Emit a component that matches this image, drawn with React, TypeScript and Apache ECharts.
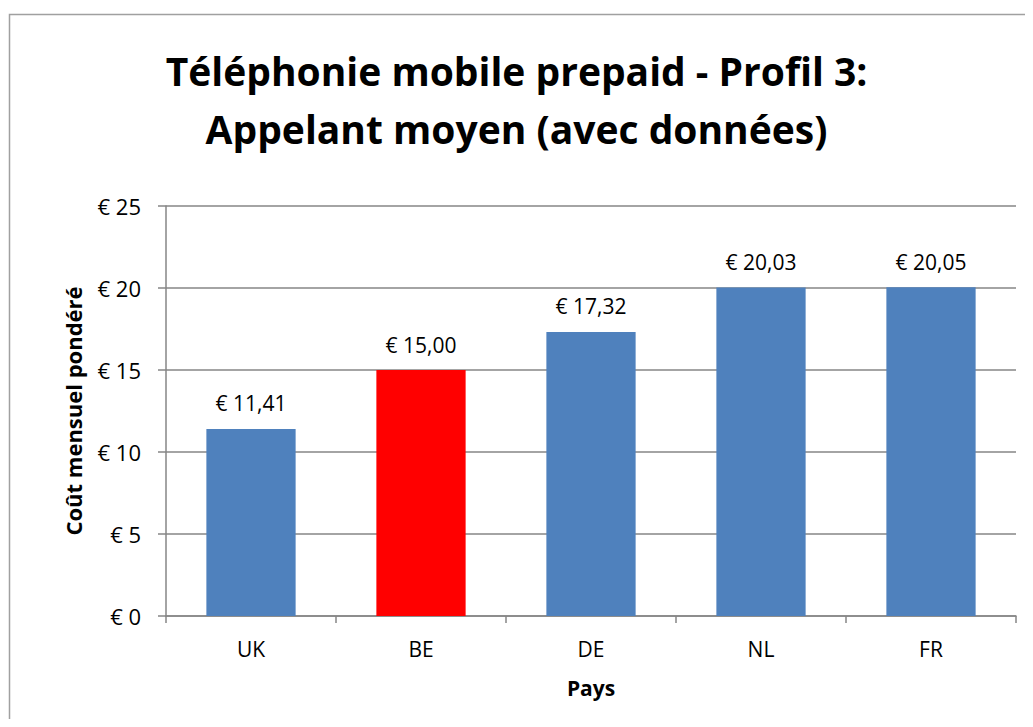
import React, { useEffect, useRef } from "react";
import * as echarts from "echarts";

const countries = ["UK", "BE", "DE", "NL", "FR"];
const costs = [11.41, 15.0, 17.32, 20.03, 20.05];
const highlighted = "BE";
const yTicks = [0, 5, 10, 15, 20, 25];

const FONT = "'Open Sans', 'Noto Sans', sans-serif";

export default function App() {
  const ref = useRef<HTMLDivElement>(null);
  useEffect(() => {
    if (!ref.current) return;
    const chart = echarts.init(ref.current, null, { renderer: "svg" });
    chart.setOption({
      animation: false,
      backgroundColor: "#ffffff",
      textStyle: { fontFamily: FONT },
      graphic: [
        {
          type: "rect",
          shape: { x: 1.5, y: 6.5, width: 1100, height: 800 },
          style: { fill: "none", stroke: "#a0a0a0", lineWidth: 1.5 },
          silent: true,
        },
      ],
      title: {
        text: "Téléphonie mobile prepaid - Profil 3:\nAppelant moyen (avec données)",
        left: "center",
        top: 28,
        textStyle: {
          fontFamily: FONT,
          fontWeight: "bold",
          fontSize: 39,
          lineHeight: 58,
          color: "#000000",
        },
      },
      grid: { left: 158, right: 9, top: 198, bottom: 103, containLabel: false },
      xAxis: {
        type: "category",
        data: countries,
        name: "Pays",
        nameLocation: "middle",
        nameGap: 61,
        nameTextStyle: { fontFamily: FONT, fontWeight: "bold", fontSize: 21, color: "#000" },
        axisLine: { show: true, lineStyle: { color: "#868686", width: 1.5 } },
        axisTick: { show: true, alignWithLabel: false, length: 7, lineStyle: { color: "#868686", width: 1.5 } },
        axisLabel: { fontFamily: FONT, fontSize: 21, color: "#000", margin: 22 },
        splitLine: { show: false },
      },
      yAxis: {
        type: "value",
        min: 0,
        max: 25,
        interval: 5,
        name: "Coût mensuel pondéré",
        nameLocation: "middle",
        nameGap: 82,
        nameTextStyle: { fontFamily: FONT, fontWeight: "bold", fontSize: 22, color: "#000" },
        axisLine: { show: true, lineStyle: { color: "#868686", width: 1.5 } },
        axisTick: { show: true, length: 8, lineStyle: { color: "#868686", width: 1.5 } },
        axisLabel: {
          fontFamily: FONT,
          fontSize: 22,
          color: "#000",
          margin: 25,
          formatter: (v: number) => (yTicks.includes(v) ? "€ " + v : ""),
        },
        splitLine: { show: true, lineStyle: { color: "#868686", width: 1.5 } },
      },
      series: [
        {
          type: "bar",
          barWidth: "52.5%",
          data: countries.map((c, i) => ({
            value: costs[i],
            itemStyle: { color: c === highlighted ? "#FF0000" : "#4F81BD" },
          })),
          label: {
            show: true,
            position: "top",
            distance: 15,
            fontFamily: FONT,
            fontSize: 21,
            color: "#000",
            formatter: (p: any) => "€ " + Number(p.value).toFixed(2).replace(".", ","),
          },
        },
      ],
    });
    return () => chart.dispose();
  }, []);
  return <div ref={ref} style={{ width: 1017, height: 711 }} />;
}
